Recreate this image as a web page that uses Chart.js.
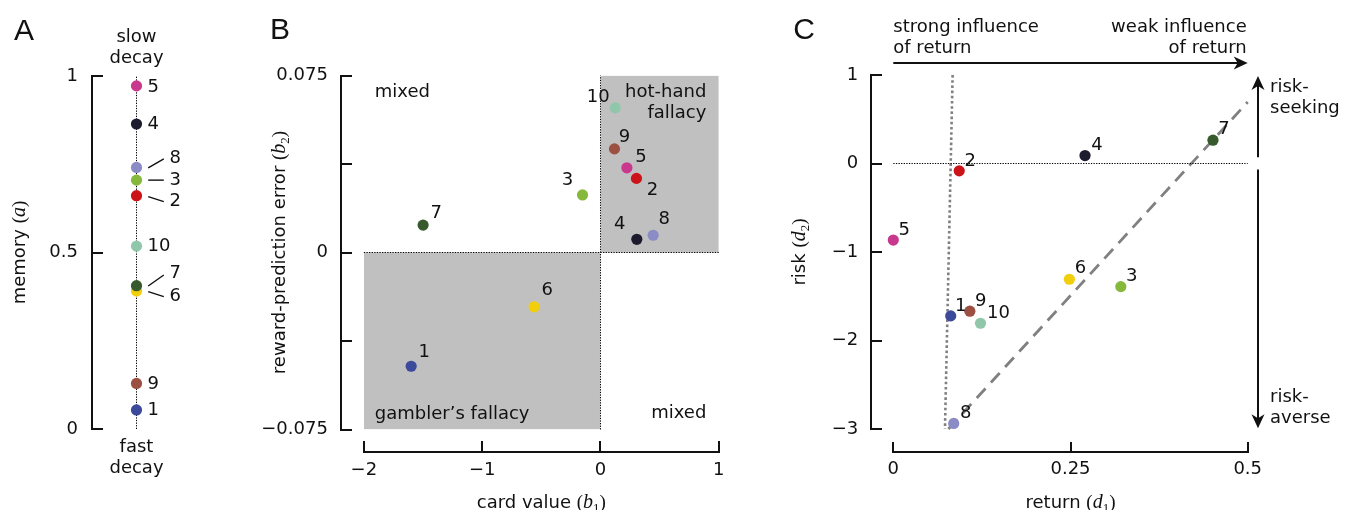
<!DOCTYPE html>
<html><head><meta charset="utf-8">
<script src="https://cdn.jsdelivr.net/npm/chart.js@4.4.1/dist/chart.umd.min.js"></script>
<style>
html,body{margin:0;padding:0;background:#fff;}
#wrap{position:relative;width:1355px;height:510px;overflow:hidden;background:#fff;}
#wrap canvas{position:absolute;top:0;}
</style></head><body>
<div id="wrap">
<canvas id="cA" width="240" height="510" style="left:0px"></canvas>
<canvas id="cB" width="520" height="510" style="left:240px"></canvas>
<canvas id="cC" width="595" height="510" style="left:760px"></canvas>
</div>
<script>
// ---------------- data ----------------
const participants = ['1','2','3','4','5','6','7','8','9','10'];
const participantColors = ['#3c4a9c','#cc1319','#86b83c','#1c1c2e','#c8398d','#f2cf0c','#375a2c','#8b8bc6','#9c5042','#90c7aa'];
const memoryA     = [0.054, 0.661, 0.705, 0.864, 0.972, 0.391, 0.406, 0.741, 0.129, 0.518];
const cardValueB1 = [-1.60, 0.304, -0.152, 0.307, 0.223, -0.561, -1.499, 0.445, 0.118, 0.124];
const rpeB2       = [-0.0482, 0.0314, 0.0244, 0.0056, 0.0359, -0.0230, 0.0116, 0.0073, 0.0439, 0.0613];
const returnD1    = [0.081, 0.093, 0.321, 0.2705, 0.0, 0.2484, 0.451, 0.0852, 0.108, 0.123];
const riskD2      = [-1.722, -0.083, -1.391, 0.090, -0.865, -1.308, 0.263, -2.937, -1.669, -1.805];

const memoryCategory = ['memory'];
const memoryTicks = [0, 0.5, 1];
const memoryTickLabels = ['0', '0.5', '1'];
const cardTicks = [-2, -1, 0, 1];
const cardTickLabels = ['\u22122', '\u22121', '0', '1'];
const rpeTicks = [-0.075, -0.0375, 0, 0.0375, 0.075];
const rpeTickLabels = ['\u22120.075', '', '0', '', '0.075'];
const returnTicks = [0, 0.25, 0.5];
const returnTickLabels = ['0', '0.25', '0.5'];
const riskTicks = [-3, -2, -1, 0, 1];
const riskTickLabels = ['\u22123', '\u22122', '\u22121', '0', '1'];

// shaded quadrants (panel B)
const gamblersB1 = [-2, 0], gamblersB2 = [-0.075, 0];
const hotHandB1 = [0, 1],  hotHandB2 = [0, 0.075];
// reference lines (panel C)
const boundaryD1 = [0.0837, 0.0729], boundaryD2 = [1, -3];
const trendD1 = [0.0777, 0.5], trendD2 = [-3, 0.695];

// ---------------- styling ----------------
const SANS = '"DejaVu Sans", sans-serif';
const MATH = '"Liberation Serif", "DejaVu Serif", serif';
const INK = '#111';
const F_TXT = '18px ' + SANS;
const F_PAREN = '19px ' + MATH;
const F_VAR = 'italic 20px ' + MATH;
const F_SUB = '13px ' + MATH;
const F_LETTER = '30px "Liberation Sans", Arial, sans-serif';
Chart.defaults.font.family = SANS;
Chart.defaults.font.size = 18;
Chart.defaults.color = INK;

function rich(ctx, parts, x, y, rotate) {
  ctx.save();
  ctx.translate(x, y);
  if (rotate) ctx.rotate(-Math.PI / 2);
  ctx.textAlign = 'left'; ctx.textBaseline = 'alphabetic'; ctx.fillStyle = INK;
  let total = 0;
  const ws = parts.map(p => { ctx.font = p[1]; const w = ctx.measureText(p[0]).width; total += w; return w; });
  let cx = -total / 2;
  parts.forEach((p, i) => { ctx.font = p[1]; ctx.fillText(p[0], cx, p[2] || 0); cx += ws[i]; });
  ctx.restore();
}
function mathTitle(text, v, sub) {
  const parts = [[text + ' ', F_TXT], ['(', F_PAREN], [v, F_VAR]];
  if (sub) parts.push([sub, F_SUB, 4]);
  parts.push([')', F_PAREN]);
  return parts;
}
function txt(ctx, s, x, y, align, font) {
  ctx.save(); ctx.font = font || F_TXT; ctx.fillStyle = INK;
  ctx.textAlign = align || 'left'; ctx.textBaseline = 'alphabetic';
  ctx.fillText(s, x, y); ctx.restore();
}
function drawAxisFrame(chart, o) {
  const {ctx, chartArea: ca, scales: {x, y}} = chart;
  ctx.save();
  ctx.strokeStyle = INK; ctx.lineWidth = 2; ctx.lineCap = 'butt';
  ctx.beginPath();
  if (o.y) {
    const ax = Math.round(ca.left - o.y.offset);
    const top = Math.round(y.getPixelForValue(y.max)), bot = Math.round(y.getPixelForValue(y.min));
    ctx.moveTo(ax, top - 1); ctx.lineTo(ax, bot + 1);
    y.ticks.forEach(t => { const py = Math.round(y.getPixelForValue(t.value)); ctx.moveTo(ax, py); ctx.lineTo(ax + o.y.len, py); });
  }
  if (o.x) {
    const ay = Math.round(ca.bottom + o.x.offset);
    const l = Math.round(x.getPixelForValue(x.min)), r = Math.round(x.getPixelForValue(x.max));
    ctx.moveTo(l - 1, ay); ctx.lineTo(r + 1, ay);
    x.ticks.forEach(t => { const px = Math.round(x.getPixelForValue(t.value)); ctx.moveTo(px, ay); ctx.lineTo(px, ay - o.x.len); });
  }
  ctx.stroke();
  ctx.restore();
}
function labelPlugin(offsets) {
  return { id: 'pointLabels', afterDatasetsDraw(chart) {
    const ctx = chart.ctx; const meta = chart.getDatasetMeta(0);
    ctx.save(); ctx.font = F_TXT; ctx.fillStyle = INK; ctx.textBaseline = 'middle';
    ctx.strokeStyle = INK; ctx.lineWidth = 1.4;
    meta.data.forEach((pt, i) => {
      const o = offsets[i];
      ctx.textAlign = o[2] || 'center';
      ctx.fillText(participants[i], pt.x + o[0], pt.y + o[1]);
      if (o[3]) { const L = o[3]; ctx.beginPath(); ctx.moveTo(pt.x + L[0], pt.y + L[1]); ctx.lineTo(pt.x + L[2], pt.y + L[3]); ctx.stroke(); }
    });
    ctx.restore();
  }};
}
function arrowHead(ctx, tx, ty, dir) {
  const len = 14, half = 6.5, notch = 4;
  ctx.save(); ctx.translate(tx, ty); ctx.rotate(dir);
  ctx.beginPath(); ctx.moveTo(0, 0); ctx.lineTo(-len, -half); ctx.lineTo(-len + notch, 0); ctx.lineTo(-len, half); ctx.closePath();
  ctx.fillStyle = INK; ctx.fill(); ctx.restore();
}
function baseOptions(pad, yWidth, xHeight, xOpts, yOpts) {
  const noGrid = {grid: {display: false, drawTicks: false}, border: {display: false}};
  return {
    responsive: false, maintainAspectRatio: false, animation: false, events: [],
    layout: {padding: pad},
    plugins: {legend: {display: false}, tooltip: {enabled: false}},
    scales: {
      x: Object.assign({}, noGrid, {afterFit(s) { s.height = xHeight; s.paddingLeft = 0; s.paddingRight = 0; }}, xOpts),
      y: Object.assign({}, noGrid, {afterFit(s) { s.width = yWidth; s.paddingTop = 0; s.paddingBottom = 0; }}, yOpts)
    }
  };
}
const pointStyle = {pointBackgroundColor: participantColors, pointBorderWidth: 0, pointRadius: 5.6, clip: false};
const dotted = {borderColor: '#000', borderWidth: 1, borderDash: [1.3, 1.3], pointRadius: 0, fill: false, clip: false};

// ---------------- Panel A ----------------
const offsetsA = [
  [11, 0, 'left'], [33, 6, 'left', [11.7, 1, 27.3, 6]], [33, 0, 'left', [11.7, 0, 27.3, 0]], [11, 0, 'left'],
  [11, 1, 'left'], [33, 5, 'left', [11.7, 0.7, 27.3, 5.7]], [33, -12.7, 'left', [11.7, 0.3, 27.3, -10.7]],
  [33, -9.3, 'left', [11.7, 0.4, 27.3, -8.6]], [11, 0.7, 'left'], [11, 0, 'left']
];
new Chart(document.getElementById('cA'), {
  type: 'scatter',
  data: {
    labels: memoryCategory,
    datasets: [
      Object.assign({data: memoryA.map(v => ({x: memoryCategory[0], y: v}))}, pointStyle),
      Object.assign({type: 'line', data: [{x: memoryCategory[0], y: memoryTicks[0]}, {x: memoryCategory[0], y: memoryTicks[2]}]}, dotted)
    ]
  },
  options: baseOptions({left: 0, top: 76, right: 59, bottom: 81}, 92, 0,
    {type: 'category', display: false, offset: true},
    {type: 'linear', min: 0, max: 1,
     afterBuildTicks(s) { s.ticks = memoryTicks.map(v => ({value: v})); },
     ticks: {autoSkip: false, padding: 14, callback: (v, i) => memoryTickLabels[i]}}),
  plugins: [labelPlugin(offsetsA), {id: 'decoA', afterDraw(chart) {
    const {ctx, chartArea: ca} = chart;
    drawAxisFrame(chart, {y: {offset: 0, len: 11}});
    const cx = chart.getDatasetMeta(0).data[0].x;
    txt(ctx, 'slow', cx, 41.7, 'center'); txt(ctx, 'decay', cx, 63.3, 'center');
    txt(ctx, 'fast', cx, 451.7, 'center'); txt(ctx, 'decay', cx, 473.3, 'center');
    txt(ctx, 'A', 14, 40, 'left', F_LETTER);
    rich(ctx, mathTitle('memory', 'a'), 25, (ca.top + ca.bottom) / 2, true);
  }}]
});

// ---------------- Panel B ----------------
const offsetsB = [[13, -14], [16, 12], [-15, -15], [-17, -15], [14, -10], [13, -16], [13, -12], [11, -16], [10, -12], [-17, -11]];
const GRAY = '#c0c0c0';
new Chart(document.getElementById('cB'), {
  type: 'scatter',
  data: {
    datasets: [
      Object.assign({data: cardValueB1.map((v, i) => ({x: v, y: rpeB2[i]}))}, pointStyle),
      Object.assign({type: 'line', data: [{x: cardTicks[0], y: 0}, {x: cardTicks[cardTicks.length - 1], y: 0}]}, dotted),
      Object.assign({type: 'line', data: [{x: 0, y: rpeTicks[0]}, {x: 0, y: rpeTicks[rpeTicks.length - 1]}]}, dotted),
      {type: 'line', data: [{x: gamblersB1[0], y: gamblersB2[1]}, {x: gamblersB1[1], y: gamblersB2[1]}], fill: {value: gamblersB2[0]},
       backgroundColor: GRAY, borderWidth: 0, pointRadius: 0},
      {type: 'line', data: [{x: hotHandB1[0], y: hotHandB2[1]}, {x: hotHandB1[1], y: hotHandB2[1]}], fill: {value: hotHandB2[0]},
       backgroundColor: GRAY, borderWidth: 0, pointRadius: 0}
    ]
  },
  options: baseOptions({left: 0, top: 75.5, right: 41.17, bottom: 0}, 123.83, 80.5,
    {type: 'linear', min: -2, max: 1,
     afterBuildTicks(s) { s.ticks = cardTicks.map(v => ({value: v})); },
     ticks: {autoSkip: false, maxRotation: 0, padding: 30, callback: (v, i) => cardTickLabels[i]}},
    {type: 'linear', min: -0.075, max: 0.075,
     afterBuildTicks(s) { s.ticks = rpeTicks.map(v => ({value: v})); },
     ticks: {autoSkip: false, padding: 36, callback: (v, i) => rpeTickLabels[i]}}),
  plugins: [labelPlugin(offsetsB), {id: 'decoB', afterDraw(chart) {
    const {ctx, chartArea: ca} = chart;
    drawAxisFrame(chart, {y: {offset: 22.8, len: 11}, x: {offset: 22.5, len: 11}});
    txt(ctx, 'mixed', ca.left + 11, 96.7, 'left');
    txt(ctx, 'hot-hand', ca.right - 12.5, 96.7, 'right');
    txt(ctx, 'fallacy', ca.right - 12.5, 118.3, 'right');
    txt(ctx, 'gambler\u2019s fallacy', ca.left + 11, 419.3, 'left');
    txt(ctx, 'mixed', ca.right - 12.5, 418.3, 'right');
    txt(ctx, 'B', 30, 38.5, 'left', F_LETTER);
    rich(ctx, mathTitle('reward-prediction error', 'b', '2'), 45, (ca.top + ca.bottom) / 2, true);
    rich(ctx, mathTitle('card value', 'b', '1'), (ca.left + ca.right) / 2, 508);
  }}]
});

// ---------------- Panel C ----------------
const offsetsC = [[10, -10], [11, -10], [11, -10], [12, -10], [11, -10], [11, -11], [11, -11], [12, -10], [11, -10], [18, -10]];
new Chart(document.getElementById('cC'), {
  type: 'scatter',
  data: {
    datasets: [
      Object.assign({data: returnD1.map((v, i) => ({x: v, y: riskD2[i]}))}, pointStyle),
      Object.assign({type: 'line', data: [{x: returnTicks[0], y: 0}, {x: returnTicks[returnTicks.length - 1], y: 0}]}, dotted),
      {type: 'line', data: boundaryD1.map((v, i) => ({x: v, y: boundaryD2[i]})), borderColor: '#808080', borderWidth: 2.6,
       borderDash: [2.6, 2.6], pointRadius: 0, fill: false, clip: false},
      {type: 'line', data: trendD1.map((v, i) => ({x: v, y: trendD2[i]})), borderColor: '#808080', borderWidth: 2.8,
       borderDash: [13, 8], pointRadius: 0, fill: false, clip: false}
    ]
  },
  options: baseOptions({left: 0, top: 75, right: 107.3, bottom: 0}, 133.3, 81,
    {type: 'linear', min: 0, max: 0.5,
     afterBuildTicks(s) { s.ticks = returnTicks.map(v => ({value: v})); },
     ticks: {autoSkip: false, maxRotation: 0, padding: 30, callback: (v, i) => returnTickLabels[i]}},
    {type: 'linear', min: -3, max: 1,
     afterBuildTicks(s) { s.ticks = riskTicks.map(v => ({value: v})); },
     ticks: {autoSkip: false, padding: 35, callback: (v, i) => riskTickLabels[i]}}),
  plugins: [labelPlugin(offsetsC), {id: 'decoC', afterDraw(chart) {
    const {ctx, chartArea: ca, scales: {x, y}} = chart;
    drawAxisFrame(chart, {y: {offset: 22.6, len: 11}, x: {offset: 22.7, len: 10}});
    const x0 = x.getPixelForValue(x.min), x1 = x.getPixelForValue(x.max);
    const ay = Math.round(ca.top - 12);
    ctx.save(); ctx.strokeStyle = INK; ctx.lineWidth = 2;
    ctx.beginPath(); ctx.moveTo(x0, ay); ctx.lineTo(x1 - 8, ay);
    const rx = Math.round(ca.right + 10), y0 = y.getPixelForValue(0);
    ctx.moveTo(rx, y0 - 6.3); ctx.lineTo(rx, ca.top + 8);
    ctx.moveTo(rx, y0 + 6); ctx.lineTo(rx, ca.bottom - 9);
    ctx.stroke(); ctx.restore();
    arrowHead(ctx, x1, ay, 0);
    arrowHead(ctx, rx, ca.top + 1, -Math.PI / 2);
    arrowHead(ctx, rx, ca.bottom - 0.7, Math.PI / 2);
    txt(ctx, 'strong influence', x0, 31.7, 'left'); txt(ctx, 'of return', x0, 53.3, 'left');
    txt(ctx, 'weak influence', x1 - 1, 31.7, 'right'); txt(ctx, 'of return', x1 - 1, 53.3, 'right');
    txt(ctx, 'risk-', ca.right + 22.3, 92.3, 'left'); txt(ctx, 'seeking', ca.right + 22.3, 113.3, 'left');
    txt(ctx, 'risk-', ca.right + 22.3, 401.7, 'left'); txt(ctx, 'averse', ca.right + 22.3, 423.3, 'left');
    txt(ctx, 'C', 33.3, 39.3, 'left', F_LETTER);
    rich(ctx, mathTitle('risk', 'd', '2'), 45, (ca.top + ca.bottom) / 2, true);
    rich(ctx, mathTitle('return', 'd', '1'), (ca.left + ca.right) / 2, 508);
  }}]
});
</script>
</body></html>
